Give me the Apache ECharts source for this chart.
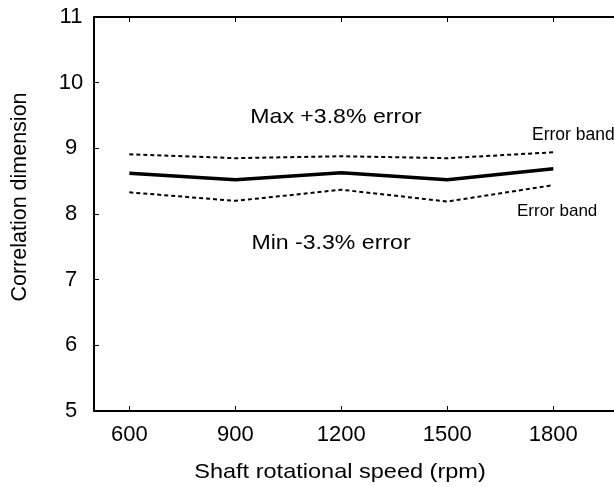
<!DOCTYPE html>
<html>
<head>
<meta charset="utf-8">
<script src="https://cdn.jsdelivr.net/npm/echarts@6/dist/echarts.min.js"></script>
<style>
  html, body { margin: 0; padding: 0; background: #fff; overflow: hidden; }
  #chart { width: 614px; height: 487px; }
</style>
</head>
<body>
<div id="chart"></div>
<script>
// Shaft speed (rpm) and the measured correlation dimension with its error band
const speeds = [600, 900, 1200, 1500, 1800];
const meanDim = [8.62, 8.52, 8.63, 8.52, 8.69];
const upperBand = [8.91, 8.85, 8.88, 8.85, 8.94];
const lowerBand = [8.33, 8.20, 8.37, 8.19, 8.44];
const yTicks = [5, 6, 7, 8, 9, 10, 11];

const FONT = 'Liberation Sans, Arial, Helvetica, sans-serif';

const pairs = (ys) => speeds.map((x, i) => [x, ys[i]]);

const chart = echarts.init(document.getElementById('chart'), null, { renderer: 'canvas' });

const frameLine = { show: true, onZero: false, lineStyle: { color: '#000', width: 2 } };
const tickStyle = { color: '#000', width: 1 };

chart.setOption({
  animation: false,
  backgroundColor: '#fff',
  // the frame runs on past the right edge of the page, so only three sides show
  grid: { left: 94, top: 17, width: 530, height: 394, outerBoundsMode: 'none', containLabel: false },
  xAxis: [
    {
      type: 'value', position: 'bottom', min: 500, max: 2000,
      axisLine: frameLine,
      axisTick: { show: true, inside: true, length: 5, customValues: speeds, lineStyle: tickStyle },
      axisLabel: { customValues: speeds, margin: 13, color: '#000', fontSize: 22, fontFamily: FONT,
                   formatter: (v) => String(v) },
      splitLine: { show: false }
    },
    {
      type: 'value', position: 'top', min: 500, max: 2000,
      axisLine: frameLine,
      axisTick: { show: true, inside: true, length: 5, customValues: speeds, lineStyle: tickStyle },
      axisLabel: { show: false },
      splitLine: { show: false }
    }
  ],
  yAxis: [
    {
      type: 'value', position: 'left', min: 5, max: 11, interval: 1,
      axisLine: frameLine,
      axisTick: { show: true, inside: true, length: 5, lineStyle: tickStyle },
      axisLabel: { margin: 23, align: 'center', color: '#000', fontSize: 22, fontFamily: FONT,
                   formatter: (v) => (yTicks.includes(v) ? String(v) : '') },
      splitLine: { show: false }
    }
  ],
  series: [
    {
      name: 'Upper error band', type: 'line', data: pairs(upperBand),
      symbol: 'none', lineStyle: { color: '#000', width: 2, type: [4, 3] }
    },
    {
      name: 'Correlation dimension', type: 'line', data: pairs(meanDim),
      symbol: 'none', lineStyle: { color: '#000', width: 3.5 }
    },
    {
      name: 'Lower error band', type: 'line', data: pairs(lowerBand),
      symbol: 'none', lineStyle: { color: '#000', width: 2, type: [4, 3] }
    }
  ],
  graphic: [
    { type: 'text', x: 340, y: 472, scaleX: 1.12,
      style: { text: 'Shaft rotational speed (rpm)', fill: '#000', fontSize: 21, fontFamily: FONT, textAlign: 'center', textVerticalAlign: 'middle' } },
    { type: 'text', x: 20, y: 197, rotation: Math.PI / 2,
      style: { text: 'Correlation dimension', fill: '#000', fontSize: 21.5, fontFamily: FONT, textAlign: 'center', textVerticalAlign: 'middle' } },
    { type: 'text', x: 336, y: 117, scaleX: 1.1,
      style: { text: 'Max +3.8% error', fill: '#000', fontSize: 21, fontFamily: FONT, textAlign: 'center', textVerticalAlign: 'middle' } },
    { type: 'text', x: 331, y: 243, scaleX: 1.1,
      style: { text: 'Min -3.3% error', fill: '#000', fontSize: 21, fontFamily: FONT, textAlign: 'center', textVerticalAlign: 'middle' } },
    { type: 'text', x: 532, y: 135,
      style: { text: 'Error band', fill: '#000', fontSize: 17.5, fontFamily: FONT, textAlign: 'left', textVerticalAlign: 'middle' } },
    { type: 'text', x: 517, y: 211,
      style: { text: 'Error band', fill: '#000', fontSize: 17, fontFamily: FONT, textAlign: 'left', textVerticalAlign: 'middle' } }
  ]
});
</script>
</body>
</html>
